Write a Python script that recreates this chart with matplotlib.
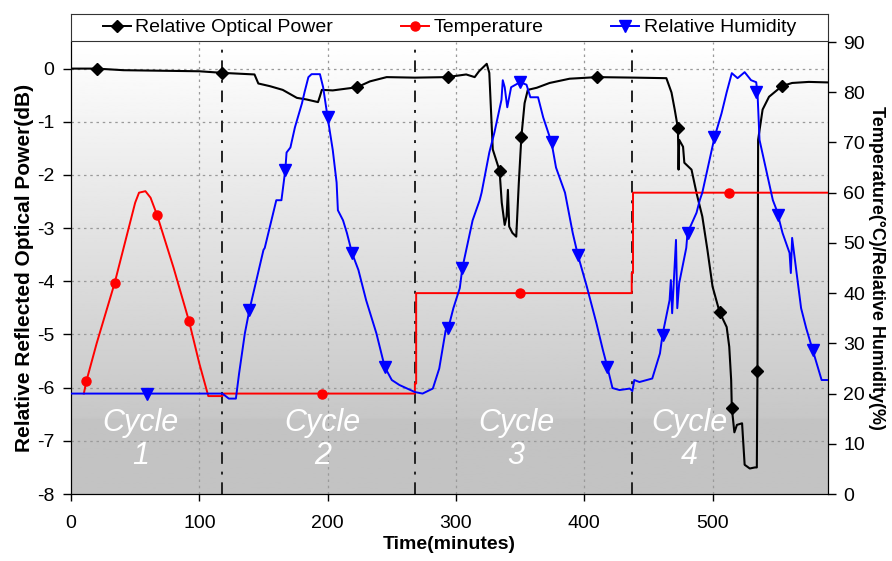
import numpy as np
import matplotlib

matplotlib.use("Agg")
import matplotlib.pyplot as plt
from matplotlib.lines import Line2D

plt.rcParams["font.family"] = ["Liberation Sans", "DejaVu Sans"]
plt.rcParams["axes.unicode_minus"] = False

# Relative optical power (dB), left axis
power_t = [0, 20, 41, 100, 118, 143, 146, 155, 165, 176, 183.5, 192.5, 194, 195.5, 204,
           223, 233, 246, 268, 293, 308, 314.6, 318, 324, 326, 328.7, 334, 335.7, 338,
           339.5, 340.5, 341.5, 344, 347, 349, 351, 353.5, 356, 363, 373, 388.6, 410,
           440, 464, 468, 470.5, 473, 473.5, 474, 477, 478, 483.6, 487.5, 492, 496,
           500, 505.5, 511, 513, 514.5, 515, 517, 519, 523, 525, 529, 533, 534.5,
           535, 535.5, 539, 544, 554, 562, 575, 590]
power_db = [0, 0, -0.03, -0.05, -0.08, -0.11, -0.28, -0.33, -0.4, -0.55, -0.58, -0.63,
            -0.52, -0.4, -0.41, -0.35, -0.24, -0.16, -0.17, -0.16, -0.11, -0.16, -0.05,
            0.09, -0.08, -1.52, -1.92, -2.52, -2.94, -2.78, -2.28, -2.97, -3.09, -3.16,
            -2.15, -1.28, -0.65, -0.4, -0.36, -0.27, -0.19, -0.16, -0.17, -0.18, -0.45,
            -0.77, -1.12, -1.9, -1.34, -1.47, -1.77, -1.9, -2.34, -2.78, -3.41, -4.1,
            -4.58, -4.86, -5.23, -5.86, -6.38, -6.84, -6.7, -6.67, -7.45, -7.52, -7.5,
            -7.5, -5.69, -1.34, -0.77, -0.53, -0.33, -0.27, -0.25, -0.26]
power_mark_t = [20, 118, 223, 294, 334, 351, 410, 473, 505.5, 515, 535, 554]
power_mark_db = [0, -0.08, -0.35, -0.16, -1.92, -1.28, -0.16, -1.12, -4.58, -6.38, -5.69, -0.33]

# Temperature (degC), right axis
temp_t = [10, 12, 20, 34, 45, 50, 53, 58, 62, 67, 80, 92, 100, 107, 118, 119, 268, 268,
          269, 269, 437, 437, 438, 438, 590]
temp_c = [20, 22.5, 30, 42, 53, 58, 60, 60.3, 59, 55.6, 45, 34.4, 26, 19.5, 19.5, 20, 20,
          22, 22, 40, 40, 44, 44, 60, 60]
temp_mark_t = [12, 34, 67, 92, 196, 350, 513]
temp_mark_c = [22.5, 42, 55.6, 34.4, 20, 40, 60]

# Relative humidity (%), right axis
rh_t = [0, 118, 123, 128.5, 131, 135.5, 139, 150, 151, 160, 164, 167, 168, 171, 174.5,
        180, 182, 185, 187.5, 194, 196.5, 200, 204, 207, 208, 212, 215, 219, 224, 230,
        238, 244.5, 250, 256, 268, 274, 282, 287, 292, 294, 298, 303, 305, 313, 318.5,
        320, 326, 330, 335.5, 336.5, 338, 340, 343, 350, 355, 358, 364, 368, 374.5,
        378, 385, 391, 395, 402, 409.5, 414.5, 418, 422, 427.5, 435.5, 437.5, 439, 443,
        453, 459, 461, 466.5, 467.5, 468.5, 471.5, 472.5, 474, 479.5, 480.5, 487.5, 490,
        492, 501.5, 507, 511, 515, 519.5, 525, 530, 534, 535, 536.6, 547, 550, 551,
        554.5, 560, 561, 562, 565, 569, 573, 578, 585, 589.6]
rh_pct = [20, 20, 19, 19, 24, 32, 36.6, 48.6, 49, 58.5, 58.5, 64.5, 68, 69, 73, 77.8, 80,
          83, 83.6, 83.6, 81, 75, 68.5, 62, 56.5, 54.5, 52, 48, 44.6, 38.6, 32, 25.3, 22.7,
          21.7, 20.3, 20, 21, 25, 32.6, 33, 37, 41, 45, 54.5, 58.5, 60, 68, 72, 78.5, 82.4,
          81, 77, 81, 82, 81.5, 79, 79, 75, 70, 65, 60, 52, 47.6, 41.3, 34, 28.7, 25.3,
          21.1, 20.7, 21, 20.5, 22.7, 22.3, 23, 28, 31.7, 38.6, 42.6, 36, 50.6, 37, 42,
          49, 52, 56, 58.5, 60, 71, 75.8, 80, 83.8, 82.8, 84, 82.4, 82, 80, 70.5, 58.5,
          56.5, 55.5, 52, 48, 44, 51, 45, 37, 33, 28.7, 22.7, 22.7]
rh_mark_t = [59, 139, 167, 200, 219, 244.5, 294, 305, 350, 374.5, 395, 418, 461, 480.5,
             501.5, 534, 551, 578]
rh_mark_pct = [20, 36.6, 64.5, 75, 48, 25.3, 33, 45, 82, 70, 47.6, 25.3, 31.7, 52, 71, 80,
               55.5, 28.7]

cycle_bounds = [118, 268, 437]
cycle_x = [54, 196, 347, 482]
cycle_names = ["Cycle\n1", "Cycle\n2", "Cycle\n3", "Cycle\n4"]

fig = plt.figure(figsize=(8.92, 5.61), dpi=100)
ax = fig.add_axes([0.0796, 0.1194, 0.8487, 0.8057])
ax2 = ax.twinx()

# gradient background
grad = np.concatenate([np.linspace(1.0, 0.78, 300), np.full(60, 0.765)])
ax.imshow(grad[:, None], extent=[0, 590, -8, 0.5], aspect="auto", cmap="gray",
          vmin=0, vmax=1, zorder=0, origin="upper")

for xv in [100, 200, 300, 400, 500]:
    ax.axvline(xv, color="#9a9a9a", linestyle=(0, (2, 3)), linewidth=0.9, zorder=1)
for yv in range(-7, 1):
    ax.axhline(yv, color="#9a9a9a", linestyle=(0, (2, 3)), linewidth=0.9, zorder=1)
for xv in cycle_bounds:
    ax.axvline(xv, color="#222222", linestyle=(0, (6, 4, 1.5, 4)), linewidth=1.4, zorder=2)

ax.plot(power_t, power_db, color="black", linewidth=1.5, zorder=5)
ax.plot(power_mark_t, power_mark_db, linestyle="none", marker="D", markersize=6.5,
        color="black", zorder=6)

ax2.plot(temp_t, temp_c, color="red", linewidth=1.4, zorder=3)
ax2.plot(temp_mark_t, temp_mark_c, linestyle="none", marker="o", markersize=6.5,
         color="red", zorder=4)
ax2.plot(rh_t, rh_pct, color="blue", linewidth=1.4, zorder=3)
ax2.plot(rh_mark_t, rh_mark_pct, linestyle="none", marker="v", markersize=8.5,
         color="blue", zorder=4)

for cx, name in zip(cycle_x, cycle_names):
    ax.text(cx, -6.97, name, color="white", fontsize=22, style="italic", ha="center",
            va="center", linespacing=1.12, zorder=7)

ax.set_xlim(0, 590)
ax.set_ylim(-8, 0.5)
ax2.set_ylim(0, 90)
ax.set_xticks([0, 100, 200, 300, 400, 500])
ax.set_yticks(range(-8, 1))
ax2.set_yticks(range(0, 91, 10))
ax.tick_params(axis="y", labelsize=14, direction="out", length=6, width=1, pad=6)
ax.tick_params(axis="x", labelsize=14, direction="out", length=5, width=1, pad=10)
ax2.tick_params(labelsize=14, direction="out", length=6, width=1, pad=5)
ax.spines["top"].set_visible(False)
ax2.spines["top"].set_visible(False)
ax.set_xlabel("Time(minutes)", fontsize=14, fontweight="bold", labelpad=3)
ax.set_ylabel("Relative Reflected Optical Power(dB)", fontsize=15, fontweight="bold",
              labelpad=2)
ax2.set_ylabel("Temperature(\u00b0C)/Relative Humidity(%)", fontsize=13,
               fontweight="bold", rotation=270, labelpad=14)

# legend strip above the plot
lax = fig.add_axes([0.0796, 0.9269, 0.8487, 0.048])
lax.set_xticks([])
lax.set_yticks([])
for s in lax.spines.values():
    s.set_color("#333333")
handles = [
    Line2D([], [], color="black", marker="D", markersize=6.5, linewidth=1.4),
    Line2D([], [], color="red", marker="o", markersize=6.5, linewidth=1.4),
    Line2D([], [], color="blue", marker="v", markersize=8.5, linewidth=1.4),
]
lax.legend(handles, ["Relative Optical Power", "Temperature", "Relative Humidity"],
           loc="center", ncol=3, frameon=False, fontsize=14, handlelength=1.4,
           handletextpad=0.25, columnspacing=3.5, borderaxespad=0)

fig.savefig("out.png", dpi=100)
